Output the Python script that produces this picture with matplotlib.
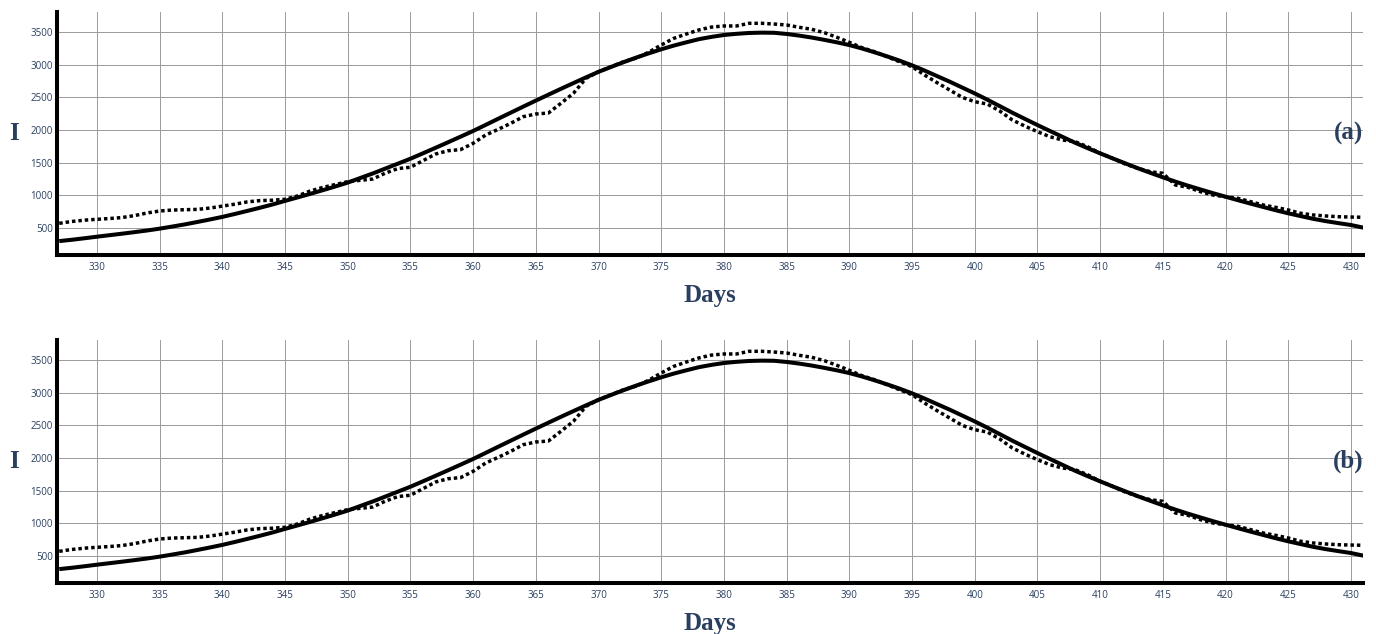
import matplotlib
matplotlib.use("Agg")
import matplotlib.pyplot as plt
import numpy as np

# %% Style
TEXT_COLOR = "#2a3f5f"
GRID_COLOR = "#9a9a9a"
TITLE_FONT = "Liberation Serif"
TICK_FONT = "Open Sans"

# %% Data (day number, infected I)
days = list(range(327, 432))

model_I = [
    300, 320, 343, 367, 390, 413, 437, 462, 490, 522,        # 327-336
    555, 592, 630, 670, 715, 762, 810, 860, 915, 968,        # 337-346
    1022, 1078, 1135, 1195, 1265, 1335, 1410, 1485, 1560, 1643,  # 347-356
    1727, 1812, 1898, 1985, 2078, 2172, 2265, 2358, 2450, 2540,  # 357-366
    2630, 2718, 2805, 2890, 2965, 3038, 3108, 3173, 3235, 3292,  # 367-376
    3342, 3390, 3425, 3454, 3472, 3485, 3490, 3488, 3470, 3445,  # 377-386
    3415, 3380, 3342, 3300, 3248, 3190, 3128, 3062, 2990, 2910,  # 387-396
    2825, 2740, 2650, 2560, 2465, 2365, 2265, 2170, 2076, 1985,  # 397-406
    1895, 1805, 1722, 1643, 1565, 1490, 1415, 1345, 1276, 1210,  # 407-416
    1148, 1090, 1033, 979, 925, 873, 822, 772, 725, 682,         # 417-426
    640, 605, 575, 546, 505,                                     # 427-431
]

observed_I = [
    572, 600, 620, 633, 645, 660, 690, 730, 760, 775,        # 327-336
    780, 785, 805, 835, 865, 900, 920, 925, 940, 990,        # 337-346
    1066, 1120, 1165, 1209, 1230, 1250, 1340, 1410, 1430, 1530,  # 347-356
    1632, 1683, 1700, 1796, 1923, 2010, 2102, 2204, 2245, 2260,  # 357-366
    2408, 2562, 2791, 2892, 2969, 3045, 3100, 3190, 3301, 3403,  # 367-376
    3469, 3531, 3575, 3592, 3592, 3633, 3633, 3622, 3607, 3572,  # 377-386
    3541, 3490, 3419, 3342, 3260, 3199, 3122, 3045, 2969, 2842,  # 387-396
    2724, 2612, 2500, 2433, 2398, 2290, 2153, 2060, 1974, 1897,  # 397-406
    1847, 1821, 1744, 1643, 1567, 1480, 1414, 1362, 1337, 1158,  # 407-416
    1123, 1056, 1005, 979, 954, 903, 852, 816, 776, 725,         # 417-426
    699, 684, 673, 668, 664,                                     # 427-431
]

x_ticks = list(range(330, 431, 5))
y_ticks = [500, 1000, 1500, 2000, 2500, 3000, 3500]
panel_labels = ["(a)", "(b)"]

W, H = 1376, 634
fig = plt.figure(figsize=(W / 100, H / 100), dpi=100)

# axes boxes in pixels: (left, top, right, bottom)
boxes = [(57, 12, 1363, 255), (57, 340, 1363, 583)]

for (l, t, r, b), tag in zip(boxes, panel_labels):
    ax = fig.add_axes([l / W, 1 - b / H, (r - l) / W, (b - t) / H])

    ax.plot(days, model_I, color="black", lw=2.9, solid_capstyle="butt", zorder=3)
    ax.plot(days, observed_I, color="black", lw=2.5, linestyle=(0, (1, 0.85)),
            dash_capstyle="butt", zorder=3)

    ax.set_xlim(326.82, 430.96)
    ax.set_ylim(87, 3806)
    ax.set_xticks(x_ticks)
    ax.set_yticks(y_ticks)
    ax.grid(True, color=GRID_COLOR, lw=0.7, zorder=0)
    ax.set_axisbelow(True)

    for side in ["top", "right"]:
        ax.spines[side].set_visible(False)
    for side in ["left", "bottom"]:
        ax.spines[side].set_linewidth(2.9)
        ax.spines[side].set_color("black")
        ax.spines[side].set_zorder(4)

    ax.tick_params(axis="both", length=0, labelsize=7, labelcolor=TEXT_COLOR)
    ax.tick_params(axis="x", pad=5)
    ax.tick_params(axis="y", pad=3)
    for lab in ax.get_xticklabels() + ax.get_yticklabels():
        lab.set_fontfamily(TICK_FONT)

    ax.text(-0.033, 0.5, "I", transform=ax.transAxes, ha="center", va="center",
            fontsize=18, fontweight="bold", family=TITLE_FONT, color=TEXT_COLOR)
    ax.text(0.5, -0.193, "Days", transform=ax.transAxes, ha="center", va="baseline",
            fontsize=18, fontweight="bold", family=TITLE_FONT, color=TEXT_COLOR)
    ax.text(1.0, 0.5, tag, transform=ax.transAxes, ha="right", va="center",
            fontsize=18, fontweight="bold", family=TITLE_FONT, color=TEXT_COLOR)

fig.savefig("out.png", dpi=100)
